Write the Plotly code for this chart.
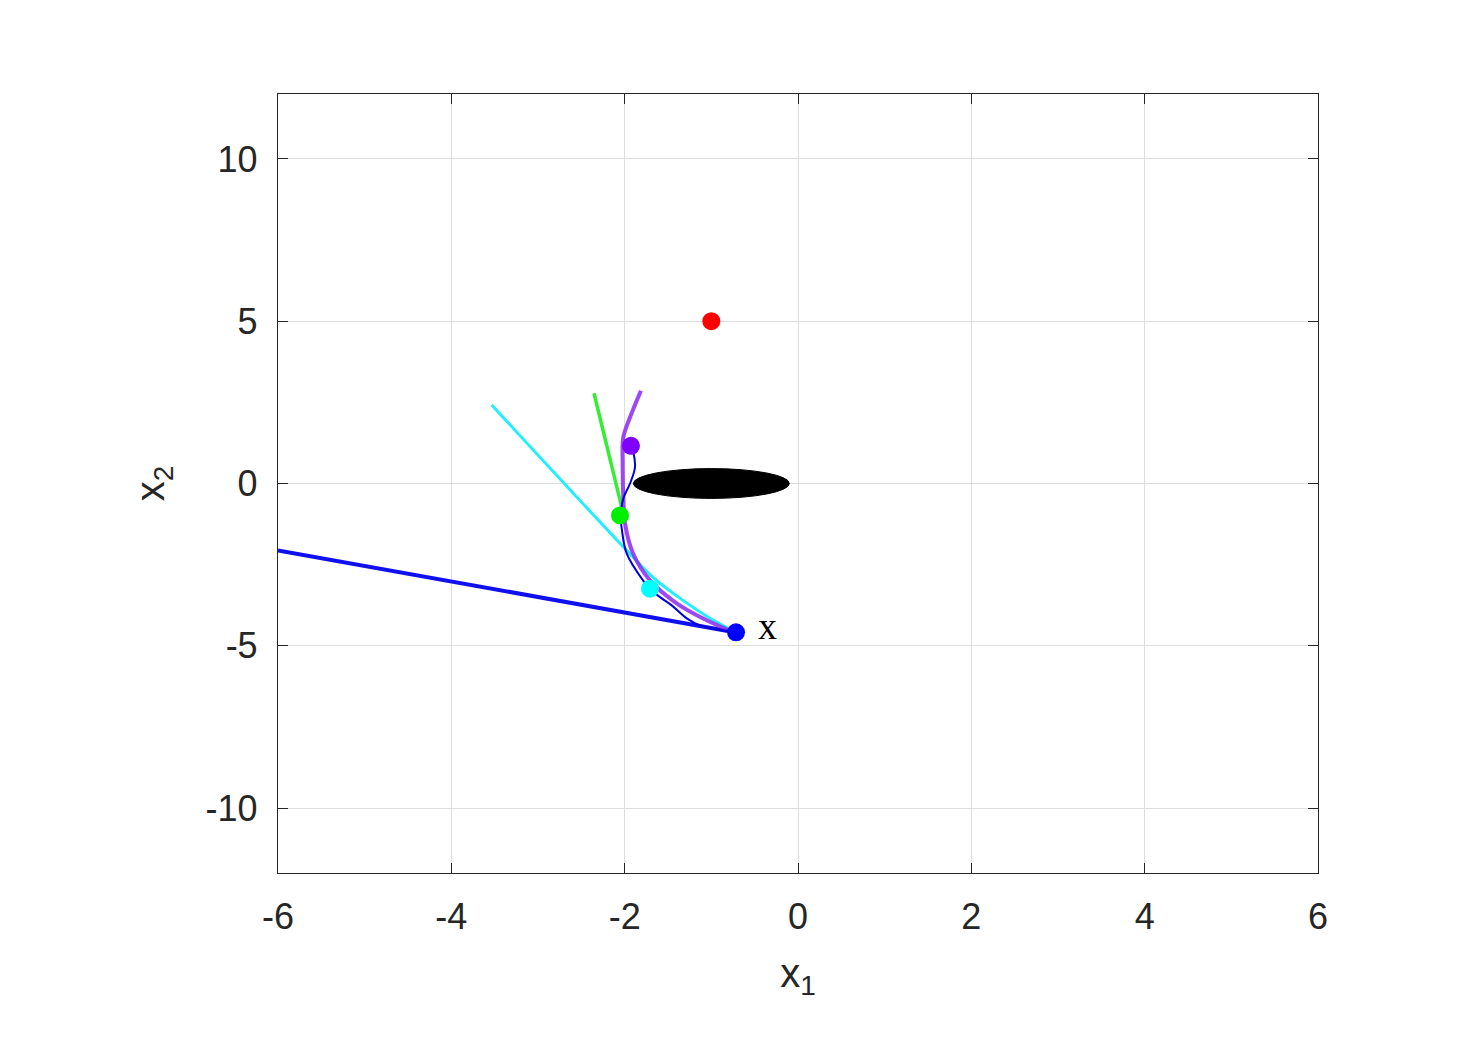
import plotly.graph_objects as go

# trajectories (x1, x2)
blue_x = [-6.0, -0.73]
blue_y = [-2.06, -4.585]

cyan_x = [-3.534, -1.977, -1.673, -1.327, -1.015, -0.715]
cyan_y = [2.42, -2.06, -2.89, -3.60, -4.15, -4.585]

green_x = [-2.354, -2.034, -2.054]
green_y = [2.78, -0.73, -0.985]

purple_x = [-1.812, -1.938, -2.016, -2.023, -2.016, -1.996, -1.904, -1.708, -1.40, -1.053, -0.75]
purple_y = [2.86, 2.04, 1.42, 0.615, -0.42, -1.23, -2.15, -2.985, -3.69, -4.215, -4.575]

thin_x = [-1.927, -1.90, -1.881, -1.938, -2.016, -2.046, -2.034, -1.977, -1.788, -1.708,
          -1.592, -1.457, -1.284, -1.131, -0.727]
thin_y = [1.16, 0.963, 0.50, 0.0, -0.46, -1.04, -1.385, -2.15, -2.985, -3.24,
          -3.50, -3.754, -4.154, -4.37, -4.575]

# agent positions
dot_x = [-1.0, -1.927, -2.054, -1.708, -0.715]
dot_y = [5.0, 1.16, -0.985, -3.24, -4.585]
dot_colors = ['#ff0000', '#8000ff', '#00ee00', '#00ffff', '#0000ff']

# obstacle (ellipse)
obs_center = [-1.0, 0.0]
obs_radii = [0.9, 0.46]

xticks = [-6, -4, -2, 0, 2, 4, 6]
xtick_text = ['-6', '-4', '-2', '0', '2', '4', '6']
yticks = [-10, -5, 0, 5, 10]
ytick_text = ['-10', '-5', '0', '5', '10']

fig = go.Figure()

fig.add_shape(type='circle', xref='x', yref='y',
              x0=obs_center[0] - obs_radii[0], x1=obs_center[0] + obs_radii[0],
              y0=obs_center[1] - obs_radii[1], y1=obs_center[1] + obs_radii[1],
              fillcolor='black', line=dict(color='black', width=1), layer='above')

fig.add_trace(go.Scatter(x=blue_x, y=blue_y, mode='lines', line=dict(color='#1010ee', width=4)))
fig.add_trace(go.Scatter(x=cyan_x, y=cyan_y, mode='lines', line=dict(color='#22eeff', width=3, shape='spline')))
fig.add_trace(go.Scatter(x=green_x, y=green_y, mode='lines', line=dict(color='#33ee33', width=3.5)))
fig.add_trace(go.Scatter(x=purple_x, y=purple_y, mode='lines',
                         line=dict(color='rgba(140,40,240,0.85)', width=4, shape='spline')))
fig.add_trace(go.Scatter(x=thin_x, y=thin_y, mode='lines', line=dict(color='#0000dd', width=2, shape='spline')))
fig.add_trace(go.Scatter(x=dot_x, y=dot_y, mode='markers',
                         marker=dict(color=dot_colors, size=18, line=dict(width=0))))

fig.add_annotation(x=-0.48, y=-4.58, text='x', showarrow=False, xanchor='left', yanchor='middle',
                   yshift=6, font=dict(family='Liberation Serif, Times New Roman, serif', size=38, color='black'))

tick_font = dict(family='Arial, Liberation Sans, sans-serif', size=36, color='#262626')
title_font = dict(family='Arial, Liberation Sans, sans-serif', size=40, color='#262626')
common = dict(showline=True, linecolor='#262626', linewidth=1.3, mirror='ticks', ticks='inside',
              ticklen=10, tickcolor='#262626', showgrid=True, gridcolor='#dedede', gridwidth=1,
              zeroline=False, tickfont=tick_font, ticklabelstandoff=12)

fig.update_xaxes(range=[-6, 6], tickvals=xticks, ticktext=xtick_text,
                 title=dict(text='x<sub>1</sub>', font=title_font, standoff=22), **common)
fig.update_yaxes(range=[-12, 12], tickvals=yticks, ticktext=ytick_text,
                 title=dict(text='x<sub>2</sub>', font=title_font, standoff=28), **common)

fig.update_layout(width=1457, height=1052, showlegend=False,
                  plot_bgcolor='white', paper_bgcolor='white',
                  margin=dict(l=270, r=147, t=86, b=187))

fig.write_html("out.html")
